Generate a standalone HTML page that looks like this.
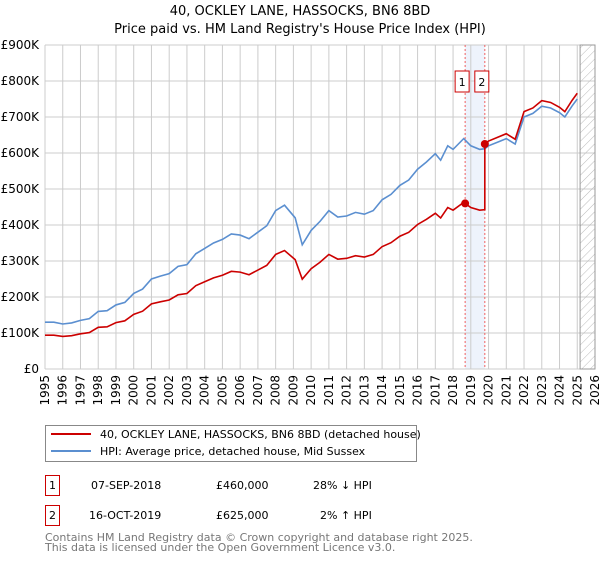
<!DOCTYPE html>
<html><head><meta charset="utf-8"><style>
body{margin:0;background:#fff;font-family:"Liberation Sans","DejaVu Sans",sans-serif;}
svg text{font-family:"DejaVu Sans","Liberation Sans",sans-serif;}
</style></head><body>
<svg id="c" width="600" height="560" viewBox="0 0 600 560">
<text x="300" y="15" text-anchor="middle" font-size="13">40, OCKLEY LANE, HASSOCKS, BN6 8BD</text>
<text x="300" y="33" text-anchor="middle" font-size="13">Price paid vs. HM Land Registry's House Price Index (HPI)</text>
<g id="plot"></g>
<g>
<rect x="45.5" y="425.5" width="371" height="36" fill="#fff" stroke="#888"/>
<line x1="51" y1="434" x2="91" y2="434" stroke="#cc0000" stroke-width="2"/>
<text x="100" y="438" font-size="11">40, OCKLEY LANE, HASSOCKS, BN6 8BD (detached house)</text>
<line x1="51" y1="451" x2="91" y2="451" stroke="#5b8fd0" stroke-width="2"/>
<text x="100" y="455" font-size="11">HPI: Average price, detached house, Mid Sussex</text>
</g>
<g font-size="11">
<rect x="45.5" y="475.5" width="14" height="20" fill="#fff" stroke="#cc0000"/>
<text x="52.5" y="489" text-anchor="middle">1</text>
<text x="91" y="489">07-SEP-2018</text><text x="216" y="489">£460,000</text><text x="313" y="489">28% ↓ HPI</text>
<rect x="45.5" y="505.5" width="14" height="20" fill="#fff" stroke="#cc0000"/>
<text x="52.5" y="519" text-anchor="middle">2</text>
<text x="89" y="519">16-OCT-2019</text><text x="216" y="519">£625,000</text><text x="320" y="519">2% ↑ HPI</text>
</g>
<text x="45" y="541" font-size="11" fill="#777">Contains HM Land Registry data © Crown copyright and database right 2025.</text>
<text x="45" y="551" font-size="11" fill="#777">This data is licensed under the Open Government Licence v3.0.</text>
</svg>
<script>
const hpiYears=[1995,1995.5,1996,1996.5,1997,1997.5,1998,1998.5,1999,1999.5,2000,2000.5,2001,2001.5,2002,2002.5,2003,2003.5,2004,2004.5,2005,2005.5,2006,2006.5,2007,2007.5,2008,2008.5,2009.1,2009.5,2010,2010.5,2011,2011.5,2012,2012.5,2013,2013.5,2014,2014.5,2015,2015.5,2016,2016.5,2017,2017.3,2017.7,2018,2018.6,2019,2019.5,2019.79,2020,2020.5,2021,2021.5,2022,2022.5,2023,2023.5,2024,2024.3,2024.7,2025];
const hpiValues=[130,130,125,128,135,140,160,162,178,185,210,222,250,258,265,285,290,320,335,350,360,375,372,362,380,398,440,455,420,345,385,410,440,422,425,435,430,440,470,485,510,525,555,575,598,580,620,610,640,620,610,612,620,630,640,625,700,710,730,725,712,700,730,750];
const saleDates=[2018.68,2019.79];
const salePrices=[460,625];
const yTicks=[0,100,200,300,400,500,600,700,800,900];
const yTickLabels=["£0","£100K","£200K","£300K","£400K","£500K","£600K","£700K","£800K","£900K"];
const xTicks=[1995,1996,1997,1998,1999,2000,2001,2002,2003,2004,2005,2006,2007,2008,2009,2010,2011,2012,2013,2014,2015,2016,2017,2018,2019,2020,2021,2022,2023,2024,2025,2026];
const X0=45,X1=595,Y0=369,Y1=45;
const xs=t=>X0+(t-1995)/(2026-1995)*(X1-X0);
const ys=v=>Y0-v/900*(Y0-Y1);
const NS="http://www.w3.org/2000/svg";
const g=document.getElementById('plot');
function el(tag,attrs,parent){const e=document.createElementNS(NS,tag);for(const k in attrs)e.setAttribute(k,attrs[k]);(parent||g).appendChild(e);return e;}
function hpiAt(t){for(let i=1;i<hpiYears.length;i++){if(t<=hpiYears[i]){const a=hpiYears[i-1],b=hpiYears[i];return hpiValues[i-1]+(hpiValues[i]-hpiValues[i-1])*(t-a)/(b-a);}}return hpiValues[hpiValues.length-1];}
const band=el('rect',{x:xs(saleDates[0]),y:Y1,width:xs(saleDates[1])-xs(saleDates[0]),height:Y0-Y1,fill:'#eef3fc'});


yTicks.forEach((v,i)=>{
 const l=el('line',{x1:X0,x2:X1,y1:ys(v),y2:ys(v),stroke:'#ccc'});
 
 
 const t=el('text',{x:X0-6,y:ys(v)+4,'text-anchor':'end','font-size':'12'});t.textContent=yTickLabels[i];
 
 
});
xTicks.forEach(y=>{
 const l=el('line',{x1:xs(y),x2:xs(y),y1:Y1,y2:Y0,stroke:'#ccc'});
 
 
 const t=el('text',{x:0,y:0,'font-size':'12','text-anchor':'end',transform:`translate(${xs(y)+4},${Y0+6}) rotate(-90)`});t.textContent=y;
 
 
});
const defs=el('defs',{});
const pat=el('pattern',{id:'h',width:6,height:6,patternUnits:'userSpaceOnUse',patternTransform:'rotate(45)'},defs);
el('line',{x1:0,y1:0,x2:0,y2:6,stroke:'#bbb','stroke-width':1},pat);
const hx=xs(2025.16);
const hatch=el('rect',{x:hx,y:Y1,width:X1-hx,height:Y0-Y1,fill:'url(#h)',stroke:'#999'});


saleDates.forEach((d,i)=>{
 const l=el('line',{x1:xs(d),x2:xs(d),y1:Y1,y2:Y0,stroke:'#f06060','stroke-dasharray':'2,2'});
 
 
 const bx=xs(d)-10;
 const r=el('rect',{x:bx,y:71,width:14,height:21,fill:'#fff',stroke:'#cc0000'});
 
 
 const t=el('text',{x:bx+7,y:86,'text-anchor':'middle','font-size':'11'});t.textContent=String(i+1);
 
 
});
const hp=el('polyline',{points:hpiYears.map((t,i)=>xs(t)+','+ys(hpiValues[i])).join(' '),fill:'none',stroke:'#5b8fd0','stroke-width':1.6});


function redAt(t){let k;if(t<saleDates[1]){k=salePrices[0]/hpiAt(saleDates[0]);}else{k=salePrices[1]/hpiAt(saleDates[1]);}return hpiAt(t)*k;}
let pts=[];
const times=hpiYears.concat(saleDates,[saleDates[1]-0.0001]).sort((a,b)=>a-b);
times.forEach(t=>pts.push(xs(t)+','+ys(redAt(t))));
const rl=el('polyline',{points:pts.join(' '),fill:'none',stroke:'#cc0000','stroke-width':1.6});


saleDates.forEach((d,i)=>{
 const c=el('circle',{cx:xs(d),cy:ys(salePrices[i]),r:4,fill:'#cc0000'});
 
 
});
</script>
</body></html>
